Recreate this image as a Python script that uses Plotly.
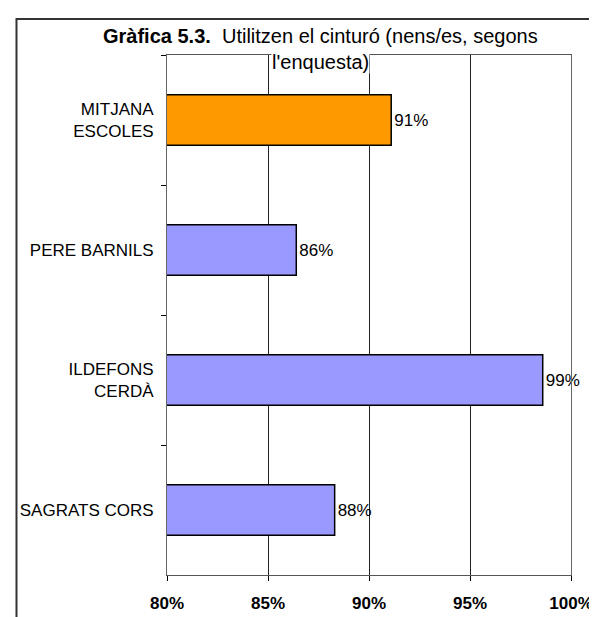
import plotly.graph_objects as go

categories = ["MITJANA<br>ESCOLES", "PERE BARNILS", "ILDEFONS<br>CERDÀ", "SAGRATS CORS"]
values = [91.1, 86.4, 98.6, 88.3]
bar_colors = ["#FF9900", "#9999FF", "#9999FF", "#9999FF"]
x_ticks = [80, 85, 90, 95, 100]
title_line1 = "<b>Gràfica 5.3.</b>  Utilitzen el cinturó (nens/es, segons"
title_line2 = "l'enquesta)"

W, H = 597, 617
ML, MR, MT, MB = 159, 30, 47, 37
PW, PH = W - ML - MR, H - MT - MB
FONT = "Liberation Sans, Arial, sans-serif"

def px_x(p):
    return (p - ML) / PW

def px_y(p):
    return (H - MB - p) / PH

fig = go.Figure(go.Bar(
    x=values, y=categories, orientation="h",
    marker=dict(color=bar_colors, line=dict(color="#000000", width=1.5)),
    text=values, texttemplate="%{x:.0f}%", textposition="outside",
    textfont=dict(family=FONT, size=17, color="#000000"),
    constraintext="none", cliponaxis=False,
))

fig.update_layout(
    width=W, height=H,
    margin=dict(l=ML, r=MR, t=MT, b=MB, pad=0),
    paper_bgcolor="white", plot_bgcolor="white",
    showlegend=False, bargap=0.61,
    font=dict(family=FONT, size=17, color="#000000"),
    xaxis=dict(
        range=[80, 100], tickvals=x_ticks, ticktext=[f"{v}%" for v in x_ticks],
        showgrid=True, gridcolor="#222222", gridwidth=1,
        showline=True, linecolor="#555555", linewidth=1, mirror=True,
        ticks="outside", ticklen=5, tickcolor="#000000",
        tickfont=dict(family=FONT, size=17, weight="bold", color="#000000"),
        ticklabelstandoff=8, zeroline=False, fixedrange=True,
    ),
    yaxis=dict(
        autorange="reversed", type="category",
        showline=True, linecolor="#666666", linewidth=1, mirror=True,
        ticks="outside", ticklen=5, tickcolor="#000000", tickson="boundaries",
        tickfont=dict(family=FONT, size=17, color="#000000"),
        ticklabelstandoff=9, showgrid=False, fixedrange=True,
    ),
    annotations=[
        dict(text=title_line1, xref="paper", yref="paper",
             x=px_x(314), y=px_y(28), xanchor="center", yanchor="middle",
             showarrow=False, font=dict(family=FONT, size=20, color="#000000")),
        dict(text=title_line2, xref="paper", yref="paper",
             x=px_x(314), y=px_y(54), xanchor="center", yanchor="middle",
             showarrow=False, bgcolor="white", borderpad=0,
             font=dict(family=FONT, size=20, color="#000000")),
    ],
    shapes=[
        dict(type="rect", xref="paper", yref="paper",
             x0=px_x(7), x1=px_x(W + 40), y0=px_y(10), y1=px_y(H + 40),
             line=dict(color="#333333", width=2), fillcolor="rgba(0,0,0,0)",
             layer="below"),
    ],
)

fig.write_html("out.html")
